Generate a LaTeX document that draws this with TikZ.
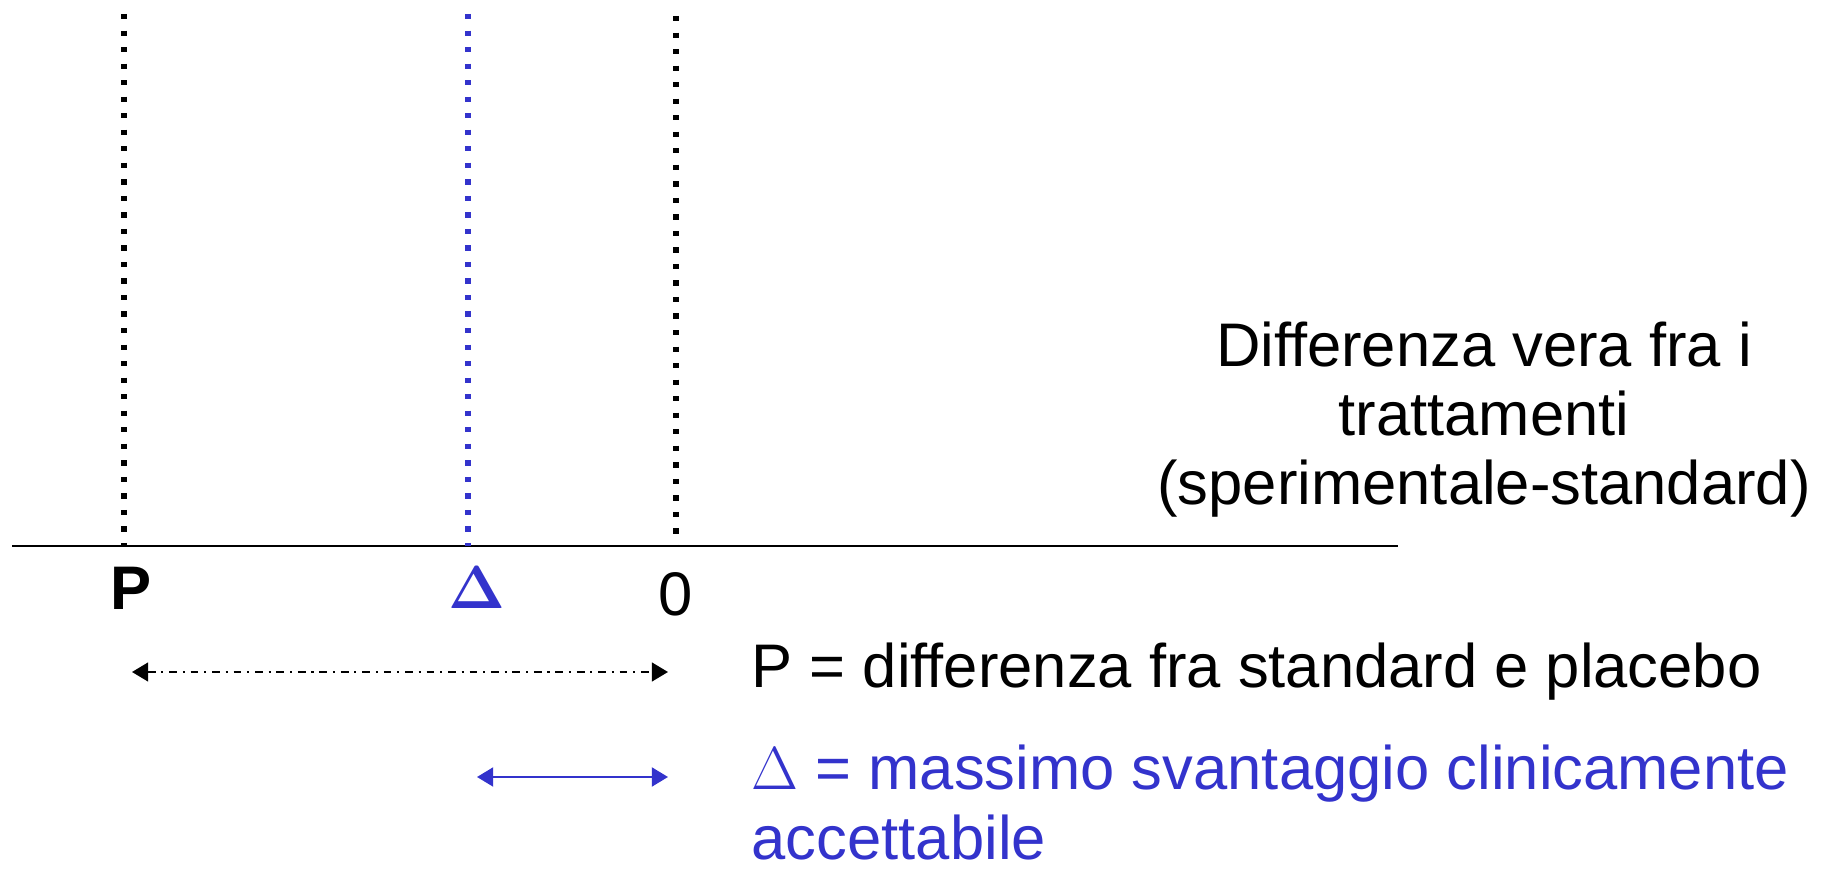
\documentclass[tikz,border=0pt]{standalone}
\usepackage{amsmath}
\usepackage{fontspec}
\setmainfont{Liberation Sans}
\usetikzlibrary{arrows.meta}
\definecolor{deltablue}{HTML}{3333CC}

\begin{document}
\begin{tikzpicture}[
  x=0.01cm,y=-0.01cm,
  guide/.style={line width=1.5pt,dash pattern=on 1.5pt off 3.2pt},
  lbl/.style={anchor=base,inner sep=0pt,font=\fontsize{17.5}{20}\selectfont},
  txt/.style={align=left,anchor=base west,inner sep=0pt,font=\fontsize{17.5}{20}\selectfont},
  span/.style={{Triangle[length=4.6pt,width=5.4pt]}-{Triangle[length=4.6pt,width=5.4pt]}}
]
\useasboundingbox (0,0) rectangle (1837,871);
% axis and the three reference values
\coordinate (axl) at (12,546);
\coordinate (axr) at (1398,546);
\coordinate (p) at (124,546);
\coordinate (d) at (468,546);
\coordinate (z) at (676,546);
\coordinate (ptop) at (124,14);
\coordinate (dtop) at (468,14);
\coordinate (ztop) at (676,16);
\draw[line width=0.7pt] (axl) -- (axr);
\foreach \a/\c in {p/black,d/deltablue,z/black} \draw[guide,draw=\c] (\a top) -- (\a);
\node[lbl,font=\fontsize{17.5}{20}\selectfont\bfseries] (plab) at (131,610) {P};
\node[lbl,text=deltablue] (dlab) at (477,609) {$\boldsymbol{\Delta}$};
\node[lbl] (zlab) at (676,616) {0};
% description
\node[align=center,inner sep=0pt,font=\fontsize{17.5}{19.6}\selectfont] (title) at (1484,420)
  {Differenza vera fra i\\trattamenti\\(sperimentale-standard)};
% spans
\coordinate (s1a) at (132,672);
\coordinate (s1b) at (668,672);
\coordinate (s2a) at (477,777);
\coordinate (s2b) at (668,777);
\draw[span,line width=0.45pt,dash pattern=on 2.2pt off 1.65pt on 0.6pt off 1.65pt] (s1a) -- (s1b);
\draw[span,line width=0.6pt,draw=deltablue,fill=deltablue] (s2a) -- (s2b);
\node[txt] (ptxt) at (751,688) {P = differenza fra standard e placebo};
\node[txt,text=deltablue] (dtxt) at (751,860) {$\Delta$ = massimo svantaggio clinicamente\\accettabile};
\end{tikzpicture}
\end{document}
